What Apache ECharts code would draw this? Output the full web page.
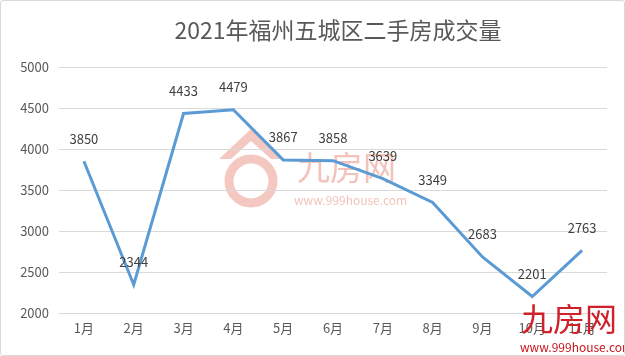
<!DOCTYPE html>
<html>
<head>
<meta charset="utf-8">
<script src="https://cdn.jsdelivr.net/npm/echarts@6/dist/echarts.min.js"></script>
<style>
html,body{margin:0;padding:0;background:#fff;}
#main{width:625px;height:356px;box-sizing:border-box;border:1px solid #d9d9d9;border-radius:3px;}
</style>
</head>
<body>
<div id="main"></div>
<script>
var titleText = '2021年福州五城区二手房成交量';
var categories = ['1月','2月','3月','4月','5月','6月','7月','8月','9月','10月','11月'];
var values = [3850, 2344, 4433, 4479, 3867, 3858, 3639, 3349, 2683, 2201, 2763];
var yMin = 2000, yMax = 5000, yStep = 500;

var chart = echarts.init(document.getElementById('main'), null, {renderer: 'canvas'});
var font = '"Noto Sans CJK SC", "Open Sans", sans-serif';
chart.setOption({
  animation: false,
  backgroundColor: 'transparent',
  title: {
    text: titleText,
    left: 332, top: 13, textAlign: 'center',
    textStyle: {fontFamily: font, fontSize: 23, fontWeight: 'normal', color: '#595959'}
  },
  grid: {left: 58, right: 17, top: 66, bottom: 42, containLabel: false},
  xAxis: {
    type: 'category', data: categories, boundaryGap: true,
    axisLine: {lineStyle: {color: '#d9d9d9', width: 1}},
    axisTick: {show: false},
    axisLabel: {fontFamily: font, fontSize: 13, color: '#595959', margin: 9}
  },
  yAxis: {
    type: 'value', min: yMin, max: yMax, interval: yStep,
    axisLine: {show: false}, axisTick: {show: false},
    splitLine: {lineStyle: {color: '#d9d9d9', width: 1}},
    axisLabel: {fontFamily: font, fontSize: 13, color: '#595959', margin: 10,
      formatter: function (v) { return String(v); }}
  },
  graphic: [
    {type: 'circle', shape: {cx: 250, cy: 180, r: 22}, style: {fill: 'none', stroke: '#f4c8c0', lineWidth: 9}, z: 0, silent: true},
    {type: 'polygon', shape: {points: [[218,158],[250,128],[282,158],[270,158],[250,140],[230,158]]}, style: {fill: '#f4c8c0'}, z: 0, silent: true},
    {type: 'text', left: 296, top: 150, style: {text: '九房网', fontFamily: font, fontSize: 33, fill: '#f3c3bb'}, z: 0, silent: true},
    {type: 'text', left: 293, top: 193, style: {text: 'www.999house.com', fontFamily: font, fontSize: 12, fill: '#f3c3bb'}, z: 0, silent: true},
    {type: 'text', left: 520, top: 302, style: {text: '九房网', fontFamily: font, fontSize: 32, fill: '#d0202a'}, z: 100, silent: true},
    {type: 'text', left: 519, top: 340, style: {text: 'www.999house.com', fontFamily: font, fontSize: 12, fill: '#c8161d'}, z: 100, silent: true}
  ],
  series: [{
    type: 'line', data: values, showSymbol: true, symbol: 'circle', symbolSize: 2,
    itemStyle: {color: 'rgba(0,0,0,0)', borderWidth: 0},
    lineStyle: {color: '#5b9bd5', width: 3, join: 'miter'},
    label: {show: true, position: 'top', distance: 15, fontFamily: font, fontSize: 13, color: '#404040'},
    z: 10
  }]
});
</script>
</body>
</html>
